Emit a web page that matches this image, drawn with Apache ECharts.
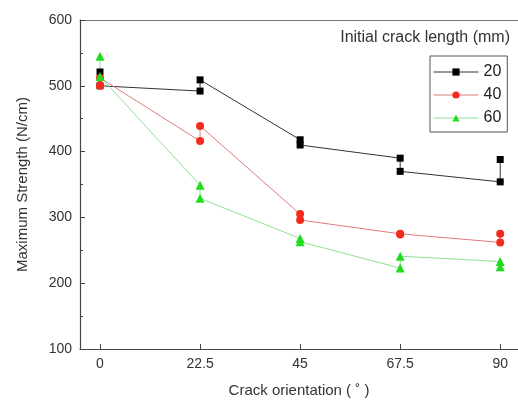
<!DOCTYPE html>
<html>
<head>
<meta charset="utf-8">
<script src="https://cdn.jsdelivr.net/npm/echarts@6/dist/echarts.min.js"></script>
<style>
  html, body { margin: 0; padding: 0; background: #fff; }
  #chart { width: 518px; height: 405px; }
</style>
</head>
<body>
<div id="chart"></div>
<script>
// Crack orientation angles (degrees)
const angles = [0, 22.5, 45, 67.5, 90];
// Two specimens per angle, listed in the order the connecting line visits them
const strength20 = [[521, 500], [492, 509], [418, 410], [390, 370], [354, 388]];
const strength40 = [[500, 512], [416, 439], [305, 296], [275, 274], [262, 275]];
const strength60 = [[545, 514], [349, 329], [268, 263], [223, 241], [233, 225]];
const seriesNames = ['20', '40', '60'];

function toPath(values) {
  const pts = [];
  values.forEach((pair, i) => pair.forEach(v => pts.push([angles[i], v])));
  return pts;
}

const font = '"Liberation Sans", Arial, sans-serif';
const axisColor = '#444';
const chart = echarts.init(document.getElementById('chart'), null, { renderer: 'canvas' });

function lineSeries(name, values, lineColor, markColor, symbol, size) {
  return {
    name: name,
    type: 'line',
    data: toPath(values),
    symbol: symbol,
    symbolSize: size,
    lineStyle: { color: lineColor, width: 1 },
    itemStyle: { color: markColor },
    emphasis: { disabled: true },
    animation: false
  };
}

chart.setOption({
  animation: false,
  title: {
    text: 'Initial crack length (mm)',
    right: 8,
    top: 30,
    padding: 0,
    textStyle: { fontFamily: font, fontSize: 16, fontWeight: 'normal', color: '#333' }
  },
  legend: {
    data: seriesNames,
    orient: 'vertical',
    left: 430,
    top: 56,
    width: 77,
    padding: [8, 6, 6, 3],
    itemWidth: 45,
    itemHeight: 9,
    itemGap: 7,
    borderColor: '#555',
    borderWidth: 1,
    lineStyle: { width: 1 },
    textStyle: { fontFamily: font, fontSize: 16, color: '#222', padding: [0, 0, 0, 0] }
  },
  grid: { left: 80, right: 0, top: 20, bottom: 56 },
  xAxis: [{
    type: 'value',
    min: -4.5,
    max: 94,
    name: 'Crack orientation ( \u02da )',
    nameLocation: 'middle',
    nameGap: 34,
    nameTextStyle: { fontFamily: font, fontSize: 15, color: '#333' },
    axisLine: { show: true, onZero: false, lineStyle: { color: axisColor, width: 1.2 } },
    axisTick: { show: true, inside: true, length: 5, customValues: angles, lineStyle: { color: axisColor } },
    axisLabel: { customValues: angles, fontFamily: font, fontSize: 14, color: '#333', margin: 8 },
    splitLine: { show: false }
  }, {
    // top frame line
    type: 'value',
    position: 'top',
    min: -4.5,
    max: 94,
    axisLine: { show: true, onZero: false, lineStyle: { color: '#777', width: 1 } },
    axisTick: { show: false },
    axisLabel: { show: false },
    splitLine: { show: false }
  }],
  yAxis: [{
    type: 'value',
    min: 100,
    max: 600,
    interval: 100,
    name: 'Maximum Strength (N/cm)',
    nameLocation: 'middle',
    nameGap: 50,
    nameTextStyle: { fontFamily: font, fontSize: 15, color: '#333' },
    axisLine: { show: true, onZero: false, lineStyle: { color: axisColor, width: 1.2 } },
    axisTick: { show: true, inside: true, length: 5, lineStyle: { color: axisColor } },
    axisLabel: { fontFamily: font, fontSize: 14, color: '#333', margin: 8 },
    splitLine: { show: false }
  }, {
    // half-step ticks
    type: 'value',
    position: 'left',
    min: 100,
    max: 600,
    interval: 50,
    axisLine: { show: false, onZero: false },
    axisTick: { show: true, inside: true, length: 3, lineStyle: { color: axisColor } },
    axisLabel: { show: false },
    splitLine: { show: false }
  }],
  series: [
    lineSeries('20', strength20, '#333333', '#000000', 'rect', 7),
    lineSeries('40', strength40, '#e07a7a', '#f52a1e', 'circle', 8),
    lineSeries('60', strength60, '#8fe08f', '#1fdc1f', 'triangle', 9)
  ]
});
</script>
</body>
</html>
